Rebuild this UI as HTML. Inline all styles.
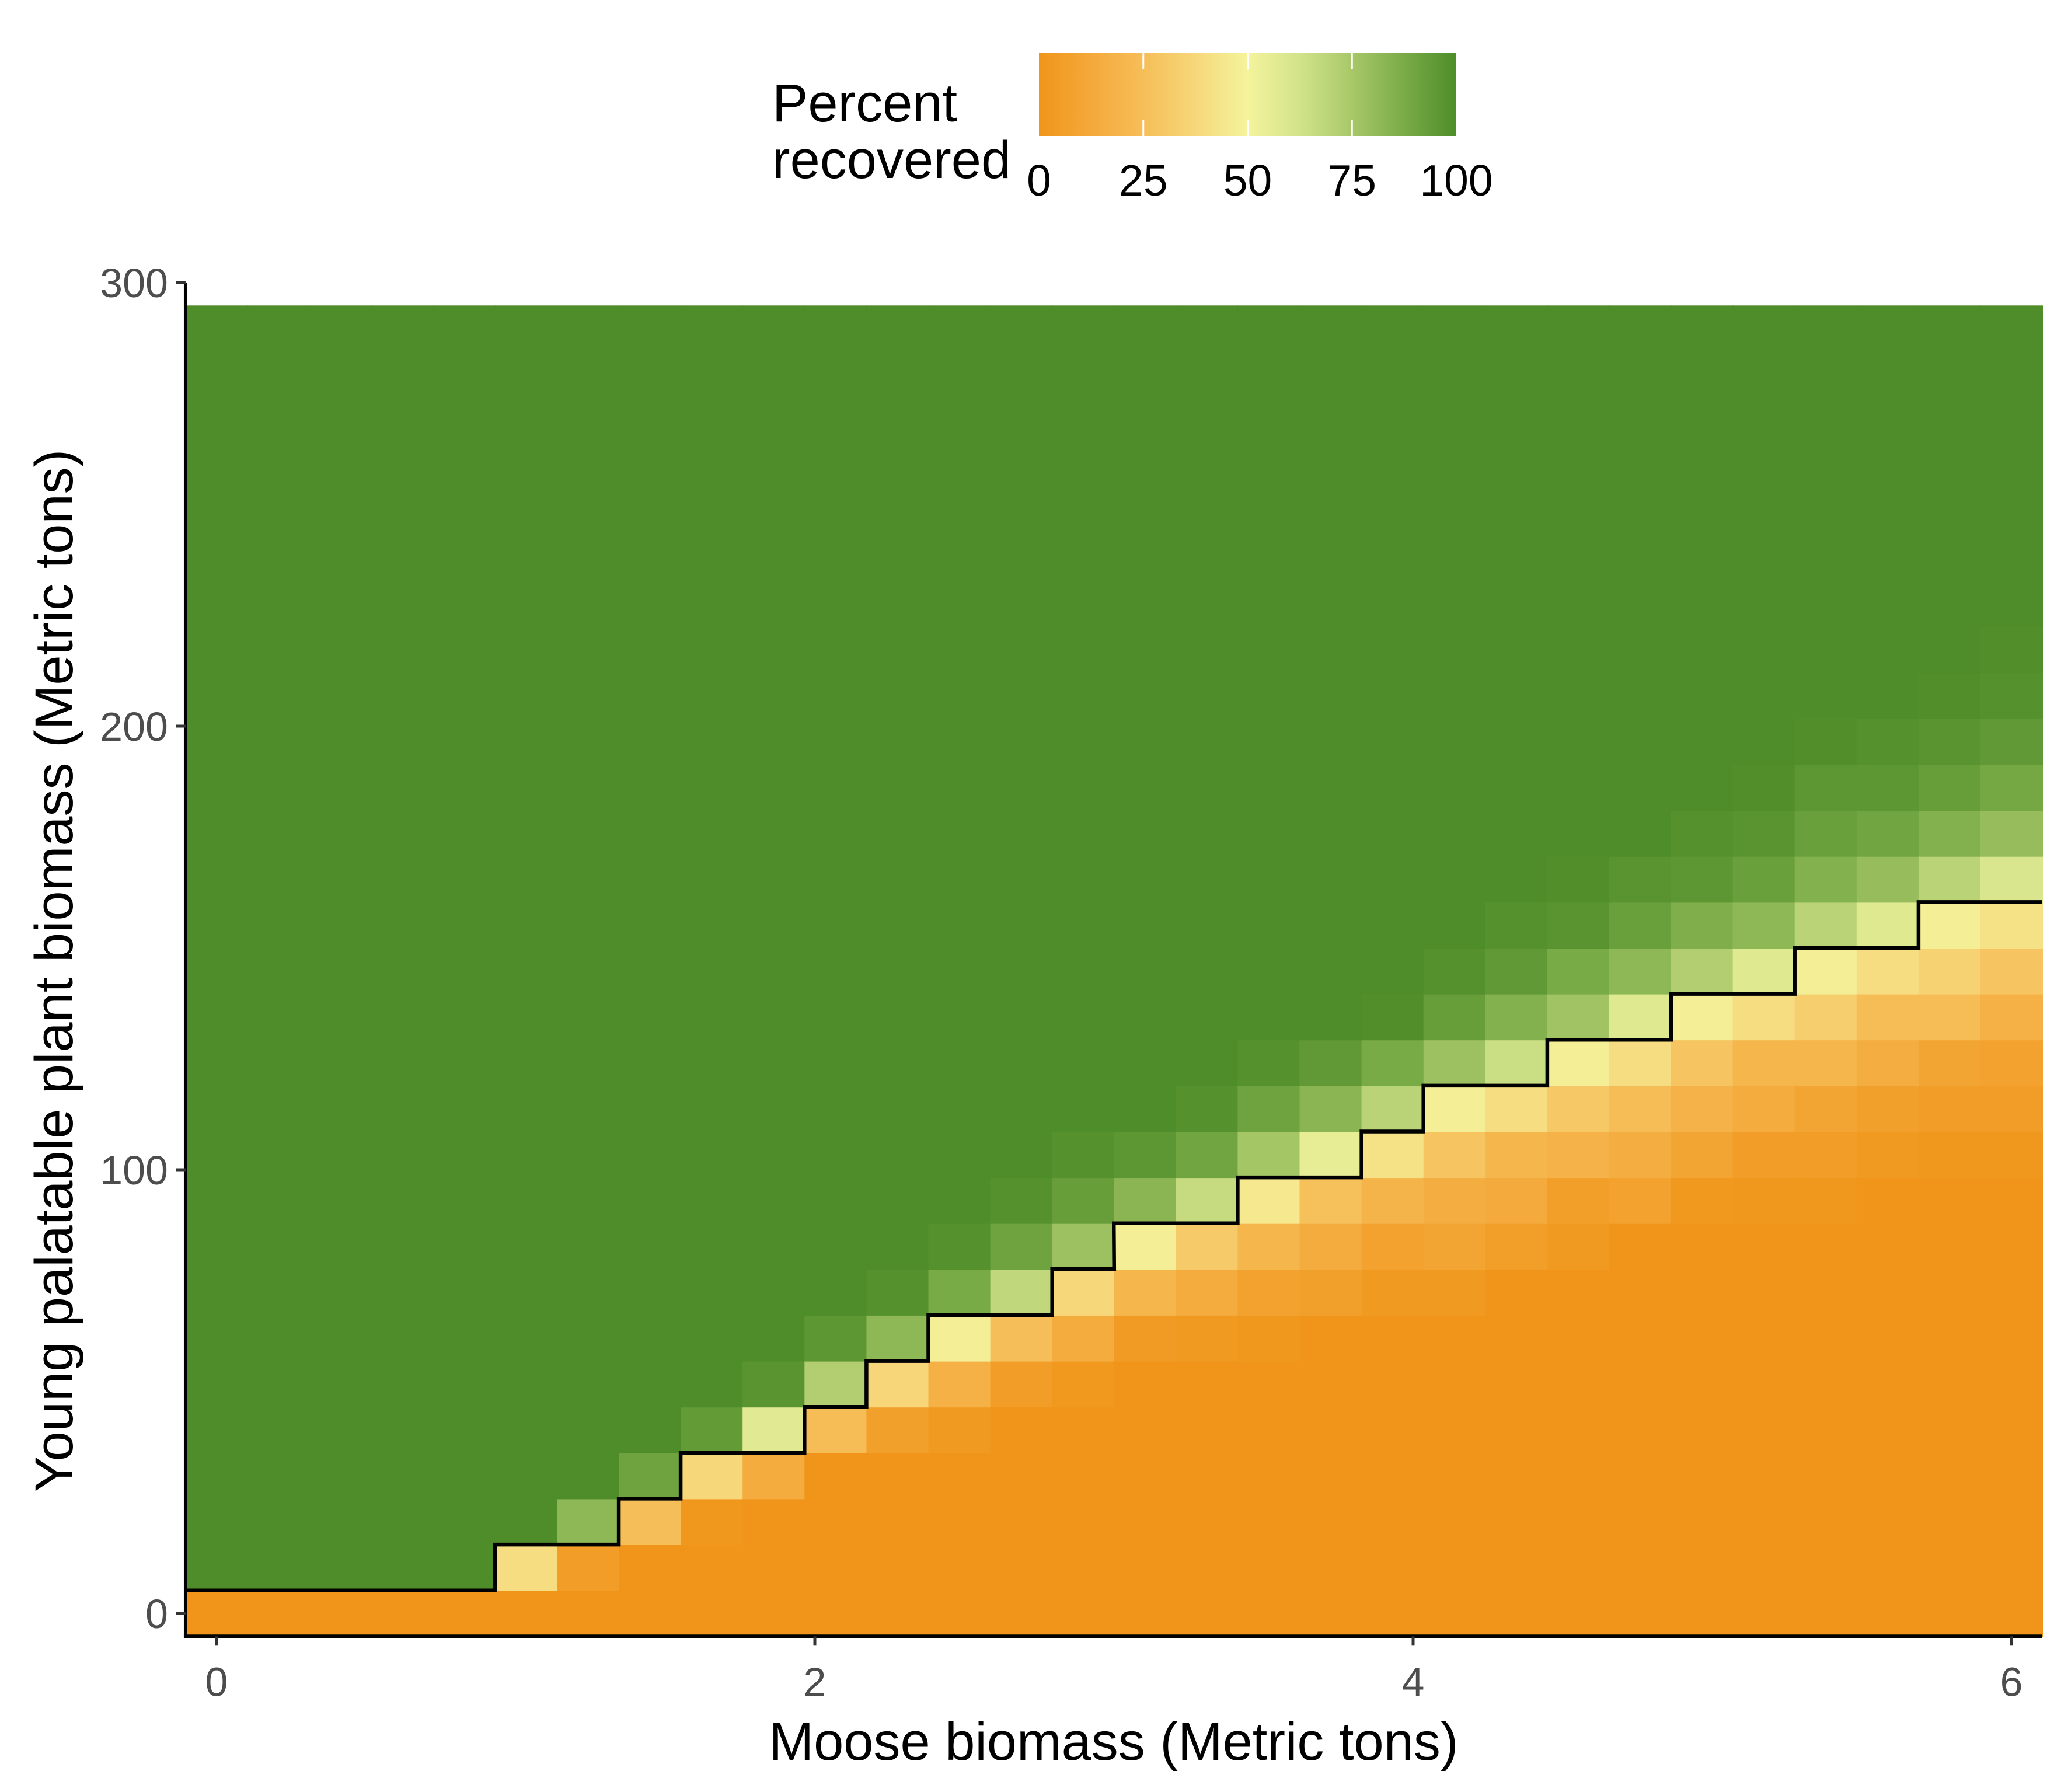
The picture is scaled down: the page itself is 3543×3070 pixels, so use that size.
<!DOCTYPE html>
<html><head><meta charset="utf-8">
<style>
html,body{margin:0;padding:0;background:#fff;}
svg{display:block;}
text{font-family:"Liberation Sans",Arial,sans-serif;}
</style></head>
<body>
<svg id="chart" width="3543" height="3070" viewBox="0 0 3543 3070" xmlns="http://www.w3.org/2000/svg">
  <defs>
    <linearGradient id="legendGrad" x1="0" x2="1" y1="0" y2="0">
      <stop offset="0" stop-color="#f0951a"/>
      <stop offset="0.125" stop-color="#f4a93b"/>
      <stop offset="0.25" stop-color="#f6be58"/>
      <stop offset="0.375" stop-color="#f6d77a"/>
      <stop offset="0.5" stop-color="#f4f49c"/>
      <stop offset="0.625" stop-color="#d2e38a"/>
      <stop offset="0.75" stop-color="#a8c868"/>
      <stop offset="0.875" stop-color="#7aab47"/>
      <stop offset="1" stop-color="#4e8d29"/>
    </linearGradient>
  </defs>
  <g id="cells"></g>
  <g id="boundary"></g>
  <g id="axes"></g>
  <g id="legend">
    <text x="1323" y="208" font-size="92" fill="#000">Percent</text>
    <text x="1323" y="305" font-size="92" fill="#000">recovered</text>
    <rect x="1780" y="90" width="715" height="143" fill="url(#legendGrad)"/>
  </g>
  <text x="1908" y="3015" font-size="92" text-anchor="middle" fill="#000">Moose biomass (Metric tons)</text>
  <text transform="translate(124,1663) rotate(-90)" font-size="92" text-anchor="middle" fill="#000">Young palatable plant biomass (Metric tons)</text>
</svg>
<script>
// ---- data ----
const xValues = [0,0.207,0.414,0.621,0.828,1.034,1.241,1.448,1.655,1.862,2.069,2.276,2.483,2.690,2.897,3.103,3.310,3.517,3.724,3.931,4.138,4.345,4.552,4.759,4.966,5.172,5.379,5.586,5.793,6.0];
const rowCount = 29;
const yStep = 300/29;
// for each column: first row index of the transition band
const bandStart = [0,0,0,0,0,0,0,0,0,2,3,3,4,5,5,6,6,6,7,7,7,8,8,9,9,9,9,10,10,10];
// percent recovered within the band (rows below = 0, rows above = 100)
const bandValues = [
  [0],[0],[0],[0],[0],
  [0,40],
  [0,5,82],
  [0,0,25,91],
  [0,0,1,38,94],
  [0,14,57,97],
  [0,24,72,96],
  [0,7,37,82,98],
  [3,17,48,88,98],
  [5,25,68,91,98],
  [2,14,38,78,93,98],
  [4,20,48,83,96],
  [3,14,31,66,90,98],
  [1,8,20,45,76,91,98],
  [7,14,26,55,83,95],
  [3,8,19,42,70,88,99],
  [3,10,15,28,48,78,93,98],
  [6,13,20,40,65,85,95,98],
  [3,6,18,30,48,77,88,97,99],
  [8,15,24,40,58,82,92,97],
  [2,10,18,28,48,72,86,96,98],
  [1,5,14,20,40,58,82,92,97,99],
  [1,5,10,20,33,48,70,85,92,96,99],
  [3,7,15,24,40,58,80,90,96,98],
  [1,5,10,24,35,48,70,85,93,97,99],
  [1,5,8,17,28,42,60,80,89,95,98,99]
];
const xTicks = [0,2,4,6];
const xTickLabels = ["0","2","4","6"];
const yTicks = [0,100,200,300];
const yTickLabels = ["0","100","200","300"];
const legendTicks = [0,25,50,75,100];
const legendLabels = ["0","25","50","75","100"];

// ---- scales ----
const X0 = 371, XU = 512.5;
const Y0 = 2764, YU = 7.6;
const sx = v => X0 + v*XU;
const sy = v => Y0 - v*YU;
const colW = (xValues[1]-xValues[0])*XU;
const rowH = yStep*YU;
const stops = [[0,[240,149,26]],[12.5,[244,169,59]],[25,[246,190,88]],[37.5,[246,215,122]],[50,[244,244,156]],[62.5,[210,227,138]],[75,[168,200,104]],[87.5,[122,171,71]],[100,[78,141,41]]];
function color(p){
  for(let i=0;i<stops.length-1;i++){
    const a=stops[i],b=stops[i+1];
    if(p<=b[0]){const t=(p-a[0])/(b[0]-a[0]);
      return 'rgb('+a[1].map((c,k)=>Math.round(c+(b[1][k]-c)*t)).join(',')+')';}
  }
  return 'rgb(78,141,41)';
}
const NS='http://www.w3.org/2000/svg';
function mk(tag,attrs,parent){const e=document.createElementNS(NS,tag);for(const k in attrs)e.setAttribute(k,attrs[k]);parent.appendChild(e);return e;}
function valueAt(c,r){
  const s=bandStart[c], b=bandValues[c];
  if(r<s) return 0;
  if(r>=s+b.length) return 100;
  return b[r-s];
}
const cellsG=document.getElementById('cells');
for(let c=0;c<xValues.length;c++){
  for(let r=0;r<rowCount;r++){
    const v=valueAt(c,r);
    const cx=sx(xValues[c]), cy=sy(r*yStep);
    const el=mk('rect',{x:(cx-colW/2).toFixed(1),y:(cy-rowH/2).toFixed(1),width:(colW+1).toFixed(1),height:(rowH+1).toFixed(1),fill:color(v)},cellsG);
    
    
  }
}
// boundary: top of highest row with value < 50 in each column
let d='';
for(let c=0;c<xValues.length;c++){
  let top=-1;
  for(let r=0;r<rowCount;r++){ if(valueAt(c,r)<50) top=r; }
  const yb=sy(top*yStep)-rowH/2;
  const xl=sx(xValues[c])-colW/2, xr=sx(xValues[c])+colW/2;
  d += (c===0?'M':'L')+xl.toFixed(1)+' '+yb.toFixed(1)+' L'+xr.toFixed(1)+' '+yb.toFixed(1)+' ';
}
const bl=mk('path',{d:d,fill:'none',stroke:'#000','stroke-width':6.5,'stroke-linejoin':'miter'},document.getElementById('boundary'));



// axes
const axG=document.getElementById('axes');
const left=sx(xValues[0])-colW/2, right=sx(xValues[xValues.length-1])+colW/2;
const bottom=sy(0)+rowH/2;
const yl=mk('line',{x1:left,y1:sy(300),x2:left,y2:bottom+3,stroke:'#000','stroke-width':6},axG);


const xl=mk('line',{x1:left-3,y1:bottom,x2:right,y2:bottom,stroke:'#000','stroke-width':6},axG);


xTicks.forEach((t,i)=>{
  const tk=mk('line',{x1:sx(t),y1:bottom,x2:sx(t),y2:bottom+16,stroke:'#333','stroke-width':5},axG);
  
  
  const tl=mk('text',{x:sx(t),y:bottom+102,'font-size':70,'text-anchor':'middle',fill:'#4d4d4d'},axG);
  tl.textContent=xTickLabels[i];
  
  
});
yTicks.forEach((t,i)=>{
  const tk=mk('line',{x1:left-16,y1:sy(t),x2:left,y2:sy(t),stroke:'#333','stroke-width':5},axG);
  
  
  const tl=mk('text',{x:left-30,y:sy(t)+25,'font-size':70,'text-anchor':'end',fill:'#4d4d4d'},axG);
  tl.textContent=yTickLabels[i];
  
  
});
// legend ticks & labels
const lg=document.getElementById('legend');
const LX=1780, LW=715, LY=90, LH=143;
legendTicks.forEach((t,i)=>{
  const x=LX+LW*t/100;
  if(t>0&&t<100){
    const a=mk('line',{x1:x,y1:LY,x2:x,y2:LY+28,stroke:'#fff','stroke-width':3},lg);
    
    
    const b=mk('line',{x1:x,y1:LY+LH-28,x2:x,y2:LY+LH,stroke:'#fff','stroke-width':3},lg);
    
    
  }
  const tl=mk('text',{x:x,y:335,'font-size':75,'text-anchor':'middle',fill:'#000'},lg);
  tl.textContent=legendLabels[i];
  
  
});
</script>
</body></html>
